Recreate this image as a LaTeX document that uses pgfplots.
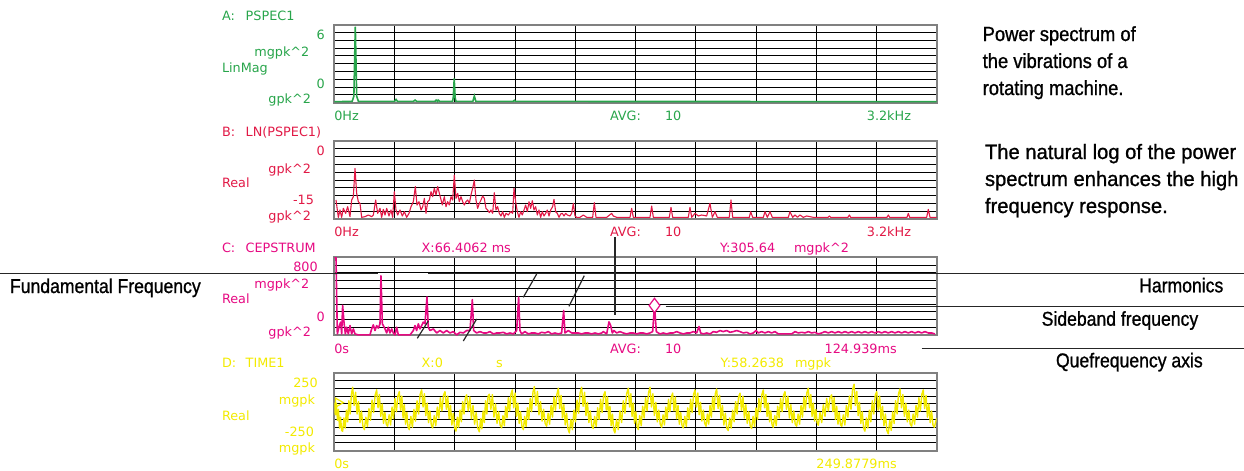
\documentclass[border=0pt]{standalone}
\usepackage{pgfplots}
\pgfplotsset{compat=1.18}
\usepackage{fontspec}
\setmainfont{DejaVu Sans}
\newfontfamily\hpf{DejaVu Sans}
\newfontfamily\cond[FakeStretch=0.88, FakeBold=1]{Liberation Sans}
\newfontfamily\condA[FakeStretch=0.9, FakeBold=1]{Liberation Sans}
\newfontfamily\condB[FakeStretch=0.97, FakeBold=1]{Liberation Sans}
\definecolor{hpgreen}{RGB}{40,165,75}
\definecolor{hpred}{RGB}{225,25,70}
\definecolor{hpmag}{RGB}{230,10,130}
\definecolor{hpyel}{RGB}{242,234,0}
\pgfplotsset{hp/.style={scale only axis, width=301.2pt, height=39pt, anchor=north west,
  axis line style={draw=gray, line width=0.9pt}, grid=major,
  major grid style={black, line width=0.45pt}, xticklabels={}, yticklabels={},
  major tick length=0pt}}
\begin{document}
\begin{tikzpicture}
\path[use as bounding box] (0,0) rectangle (622pt,-235.5pt);
% ---------- A
\begin{axis}[hp, at={(167.15pt,-12.35pt)}, xmin=0, xmax=3200, ymin=0, ymax=6,
  xtick={0,320,640,960,1280,1600,1920,2240,2560,2880,3200},
  ytick={0,0.6,1.2,1.8,2.4,3,3.6,4.2,4.8,5.4,6}]
\addplot[hpgreen, line width=0.8pt] coordinates {(0,0.08) (95,0.1) (104,0.5) (111.6,5.85) (119,0.5) (128,0.1) (320,0.1) (328,0.25) (336,0.1) (420,0.1) (429,0.2) (438,0.1) (535,0.1) (541,0.2) (548,0.1) (552,0.2) (560,0.1) (628,0.1) (632,0.4) (637,1.86) (642,0.4) (646,0.1) (736,0.1) (740,0.3) (744,0.51) (748,0.3) (752,0.1) (950,0.1) (956,0.18) (962,0.1) (3200,0.08)};
\end{axis}
% ---------- B
\begin{axis}[hp, at={(167.15pt,-70.5pt)}, xmin=0, xmax=3200, ymin=-15, ymax=0,
  xtick={0,320,640,960,1280,1600,1920,2240,2560,2880,3200},
  ytick={-15,-13.5,-12,-10.5,-9,-7.5,-6,-4.5,-3,-1.5,0}]
\addplot[hpred, line width=0.55pt, line join=round] coordinates {(9,-11.35)(21.5,-14.68)(30.3,-13.27)(39.1,-14.68)(48,-12.95)(60.4,-13.91)(71,-12.63)(83.4,-14.55)(92.3,-11.35)(101.1,-10.71)(110,-5.26)(118.8,-10.06)(127.7,-11.67)(136.5,-11.99)(145.4,-14.68)(163.1,-14.55)(180.8,-14.23)(198.5,-14.55)(207.4,-14.23)(219.8,-11.35)(230.4,-13.91)(242.8,-12.95)(251.6,-14.68)(260.5,-13.14)(269.4,-14.23)(278.2,-12.95)(290.6,-14.42)(301.2,-13.27)(310.1,-14.68)(318.9,-9.74)(327.8,-13.27)(336.6,-14.23)(349,-13.27)(361.4,-14.42)(372,-13.59)(384.4,-14.68)(396.9,-13.91)(407.5,-12.63)(419.9,-11.67)(430.5,-8.78)(439.4,-12.31)(450,-11.67)(460.6,-13.27)(469.5,-12.63)(478.3,-11.03)(487.2,-13.91)(496,-11.67)(504.9,-11.35)(513.7,-9.74)(522.6,-10.71)(531.4,-9.1)(540.3,-10.38)(549.1,-8.78)(558,-10.06)(565,-11.03)(573.9,-12.31)(584.5,-10.71)(593.4,-12.63)(602.2,-11.67)(611.1,-12.31)(619.9,-10.71)(628.8,-11.35)(637.6,-6.54)(646.5,-11.03)(655.3,-10.06)(664.2,-11.67)(673,-10.71)(681.9,-11.67)(690.7,-12.31)(699.6,-11.67)(708.4,-11.35)(717.3,-11.99)(726.1,-10.38)(735,-9.1)(743.8,-7.5)(752.7,-11.35)(761.5,-12.95)(770.4,-11.99)(779.2,-11.35)(788.1,-10.58)(796.9,-11.03)(805.8,-12.95)(814.6,-13.27)(823.5,-13.78)(832.3,-13.27)(841.2,-13.91)(850,-9.94)(858.9,-13.27)(867.7,-12.63)(876.6,-13.91)(885.4,-14.42)(894.3,-13.59)(903.2,-14.68)(912,-13.91)(924.4,-14.23)(936.8,-13.59)(947.5,-13.91)(954.6,-9.1)(963.4,-11.67)(972.3,-13.59)(981.1,-14.68)(990,-13.59)(998.8,-14.23)(1007.7,-13.27)(1016.5,-12.31)(1025.4,-13.59)(1034.2,-11.67)(1043.1,-12.95)(1051.9,-11.48)(1060.8,-13.27)(1069.6,-12.63)(1078.5,-14.23)(1087.4,-13.27)(1096.2,-14.68)(1105.1,-13.59)(1113.9,-14.42)(1122.8,-13.91)(1131.6,-13.27)(1140.5,-14.42)(1149.3,-13.27)(1159.9,-12.63)(1167,-11.22)(1175.9,-13.59)(1184.7,-13.91)(1193.6,-14.68)(1202.4,-14.04)(1211.3,-13.91)(1220.1,-14.42)(1229,-13.91)(1237.8,-14.23)(1252,-14.42)(1260.9,-13.91)(1269.8,-11.99)(1278.6,-14.42)(1287.5,-14.68)(1305.2,-14.68)(1322.9,-14.23)(1340.6,-14.68)(1358.3,-14.68)(1372.5,-14.68)(1381.3,-11.86)(1390.2,-14.68)(1411.4,-14.68)(1446.8,-14.68)(1473.4,-13.91)(1482.2,-14.42)(1499.9,-14.68)(1570.8,-14.68)(1579.6,-12.95)(1588.5,-14.68)(1677,-14.68)(1685.9,-12.5)(1694.7,-14.68)(1779.7,-14.68)(1788.6,-12.76)(1797.4,-14.68)(1880.6,-14.68)(1889.5,-12.76)(1898.4,-14.68)(1916.1,-13.91)(1933.8,-14.42)(1951.5,-14.23)(1978,-14.42)(1995.7,-11.99)(2008.1,-14.68)(2022.3,-13.59)(2034.7,-14.68)(2098.4,-14.68)(2107.3,-11.35)(2116.1,-14.68)(2204.7,-14.68)(2211.8,-13.59)(2222.4,-14.68)(2279.1,-14.68)(2287.9,-13.59)(2300.3,-14.68)(2314.5,-13.59)(2326.8,-14.68)(2411.8,-14.68)(2420.7,-13.59)(2434.9,-14.68)(2447.3,-14.23)(2460,-14.68)(2473.8,-14.23)(2491.5,-14.68)(2509.2,-14.42)(2544.7,-14.68)(2622.6,-14.68)(2629.6,-14.42)(2636.7,-14.68)(2728.8,-14.68)(2735.9,-14.23)(2743,-14.68)(2935.9,-14.68)(2943,-14.23)(2950.1,-14.68)(3042.2,-14.68)(3049.3,-13.91)(3056.3,-14.68)(3146.7,-14.68)(3155.5,-13.14)(3164.4,-14.68)(3200,-14.68)};
\end{axis}
% ---------- C
\begin{axis}[hp, at={(167.15pt,-128.65pt)}, xmin=0, xmax=124.939, ymin=0, ymax=800,
  xtick={0,12.4939,24.9878,37.4817,49.9756,62.4695,74.9634,87.4573,99.9512,112.4451,124.939},
  ytick={0,80,160,240,320,400,480,560,640,720,800}]
\addplot[hpmag, line width=0.8pt, line join=round] coordinates {(0,800)(0.35,800)(0.63,14)(1.04,100)(1.32,135)(1.53,14)(1.73,307)(2.01,135)(2.29,14)(2.56,83)(2.91,14)(3.25,100)(3.6,14)(3.95,66)(4.29,14)(4.98,4)(6.02,4)(7.4,4)(7.75,66)(8.09,107)(8.44,49)(8.79,100)(9.13,73)(9.48,118)(9.68,610)(9.96,118)(10.17,100)(10.51,66)(10.86,24)(11.2,83)(11.55,24)(11.9,66)(12.24,24)(12.59,4)(12.93,83)(13.28,4)(14.32,4)(15.7,4)(16.39,49)(16.74,100)(17.08,49)(17.43,118)(17.77,66)(18.12,100)(18.46,135)(18.81,118)(19.22,393)(19.5,83)(19.85,49)(20.54,66)(21.23,24)(21.92,49)(22.61,24)(23.3,49)(23.99,24)(24.68,38)(25.38,4)(26.07,31)(26.76,24)(27.45,49)(28.14,49)(28.63,366)(28.9,49)(29.52,24)(30.22,38)(30.91,24)(31.6,24)(32.29,38)(32.98,14)(33.67,24)(34.36,24)(35.05,31)(35.75,14)(36.44,24)(37.13,14)(37.82,49)(38.23,393)(38.51,49)(38.86,14)(39.55,38)(40.24,14)(40.93,24)(41.62,24)(42.31,14)(43,31)(43.7,24)(44.39,38)(45.08,14)(45.77,24)(46.46,14)(47.15,24)(47.57,255)(47.84,24)(48.53,49)(49.23,24)(49.92,24)(50.61,24)(51.3,14)(51.99,24)(52.68,24)(53.37,14)(54.07,24)(54.76,14)(55.45,24)(55.8,38)(56.49,14)(56.97,138)(57.32,100)(57.66,24)(58.01,49)(58.56,24)(59.25,38)(59.94,24)(60.64,14)(61.33,24)(62.02,24)(62.71,14)(63.4,24)(64.09,24)(64.78,14)(65.48,24)(66.03,38)(66.4062,305.64)(66.79,38)(67.2,24)(67.55,14)(68.24,24)(68.93,14)(69.62,24)(70.31,24)(71.01,38)(71.7,24)(72.39,14)(73.08,24)(73.77,24)(74.46,38)(75.15,24)(75.64,90)(75.98,24)(76.54,14)(77.23,24)(77.92,14)(78.61,38)(79.3,31)(79.99,49)(80.68,38)(81.38,49)(82.07,31)(82.76,38)(83.45,49)(84.14,38)(84.83,24)(85.52,31)(86.21,14)(86.91,24)(87.46,49)(87.94,24)(88.63,38)(89.32,24)(90.02,38)(90.71,24)(91.4,38)(92.09,14)(92.78,14)(93.82,14)(94.86,14)(95.55,38)(96.24,24)(96.93,31)(97.62,24)(98.31,38)(99,24)(99.69,31)(100.39,14)(101.08,24)(101.77,38)(102.46,24)(103.15,38)(103.84,24)(104.53,38)(105.22,24)(105.92,38)(106.61,24)(107.3,38)(107.99,24)(108.68,38)(109.37,24)(110.06,38)(110.76,24)(111.45,38)(112.14,24)(112.83,38)(113.52,24)(114.21,38)(114.9,24)(115.59,38)(116.29,24)(116.98,38)(117.67,24)(118.36,38)(119.05,24)(119.74,38)(120.43,24)(121.12,38)(121.82,24)(122.51,38)(123.2,24)(123.89,24)(124.58,14)};
\addplot[hpmag, only marks, mark=diamond*, mark size=3.6pt, mark options={fill=white, line width=0.6pt}] coordinates {(66.4062,305.64)};
\end{axis}
% ---------- D
\begin{axis}[hp, at={(167.15pt,-186.35pt)}, xmin=0, xmax=249.8779, ymin=-250, ymax=250,
  xtick={0,24.988,49.976,74.963,99.951,124.939,149.927,174.915,199.902,224.89,249.8779},
  ytick={-250,-200,-150,-100,-50,0,50,100,150,200,250}]
\addplot[hpyel, line width=0.7pt, line join=round] coordinates {
(0,58.3)(0.43,-20)(0.87,55)(1.3,-55)(1.73,15)(2.17,-105)(2.6,-35)(3.04,-120)(3.47,-125)
(3.99,-40)(4.51,-105)(5.03,10)(5.55,-65)(6.06,70)(6.58,-15)(7.1,110)(7.62,157)
(8.23,40)(8.83,125)(9.44,-15)(10.04,65)(10.65,-70)(11.25,5)(11.86,-90)(12.46,-115)
(13.1,-35)(13.74,-95)(14.38,20)(15.02,-55)(15.65,75)(16.29,-5)(16.93,105)(17.57,140)
(18.14,25)(18.71,110)(19.28,-30)(19.85,50)(20.42,-75)(20.99,-5)(21.56,-80)(22.13,-93)
(22.74,-20)(23.34,-85)(23.95,30)(24.55,-45)(25.16,85)(25.76,0)(26.37,100)(26.97,129)
(27.49,10)(28.01,100)(28.53,-40)(29.05,45)(29.56,-80)(30.08,-5)(30.6,-100)(31.12,-115)
(31.76,-30)(32.4,-100)(33.04,15)(33.68,-60)(34.32,70)(34.96,-15)(35.6,110)(36.24,140)
(36.81,30)(37.38,115)(37.95,-25)(38.52,55)(39.09,-70)(39.66,5)(40.23,-85)(40.8,-104)
(41.44,-25)(42.08,-90)(42.72,30)(43.36,-40)(44,90)(44.64,5)(45.28,105)(45.92,129)
(46.49,15)(47.06,100)(47.63,-45)(48.2,40)(48.77,-85)(49.34,-10)(49.91,-105)(50.48,-125)
(51.03,-35)(51.59,-100)(52.14,10)(52.7,-65)(53.25,65)(53.81,-15)(54.36,90)(54.91,108)
(55.57,5)(56.22,95)(56.88,-45)(57.54,40)(58.19,-80)(58.85,-5)(59.5,-105)(60.16,-129)
(60.68,-45)(61.2,-110)(61.72,5)(62.24,-70)(62.75,70)(63.27,-15)(63.79,100)(64.31,112)
(64.95,15)(65.59,110)(66.23,-35)(66.87,50)(67.5,-75)(68.14,0)(68.78,-85)(69.42,-104)
(69.97,-25)(70.53,-90)(71.08,35)(71.64,-40)(72.19,90)(72.75,5)(73.3,115)(73.85,140)
(74.42,25)(74.99,120)(75.56,-30)(76.13,55)(76.7,-75)(77.27,0)(77.84,-95)(78.41,-115)
(78.98,-30)(79.55,-95)(80.12,25)(80.69,-50)(81.27,85)(81.84,0)(82.41,125)(82.98,161)
(83.62,40)(84.26,130)(84.9,-20)(85.54,65)(86.17,-60)(86.81,15)(87.45,-75)(88.09,-93)
(88.7,-10)(89.3,-80)(89.91,40)(90.51,-35)(91.12,95)(91.72,10)(92.33,110)(92.93,151)
(93.5,20)(94.07,105)(94.64,-40)(95.21,45)(95.79,-85)(96.36,-10)(96.93,-110)(97.5,-136)
(98.14,-50)(98.78,-115)(99.41,10)(100.05,-65)(100.69,75)(101.33,-10)(101.96,120)(102.6,157)
(103.2,35)(103.8,125)(104.4,-25)(105,60)(105.6,-70)(106.2,5)(106.8,-90)(107.4,-108)
(108.01,-30)(108.63,-95)(109.24,25)(109.85,-50)(110.46,80)(111.08,-5)(111.69,105)(112.3,129)
(112.81,10)(113.33,95)(113.84,-50)(114.35,35)(114.86,-90)(115.38,-15)(115.89,-115)(116.4,-136)
(117.1,-50)(117.79,-115)(118.49,5)(119.18,-70)(119.88,70)(120.57,-10)(121.27,115)(121.96,151)
(122.48,30)(123,115)(123.51,-30)(124.03,55)(124.55,-75)(125.07,0)(125.58,-95)(126.1,-115)
(126.71,-25)(127.31,-90)(127.92,35)(128.52,-40)(129.13,90)(129.74,5)(130.34,120)(130.95,157)
(131.56,30)(132.16,115)(132.77,-25)(133.37,60)(133.98,-65)(134.59,10)(135.19,-80)(135.8,-100)
(136.37,-20)(136.94,-85)(137.51,30)(138.08,-45)(138.64,80)(139.21,0)(139.78,95)(140.35,119)
(140.91,5)(141.46,95)(142.02,-45)(142.58,40)(143.13,-80)(143.69,-5)(144.24,-90)(144.8,-104)
(145.4,-30)(146.01,-95)(146.61,25)(147.21,-50)(147.81,80)(148.42,-5)(149.02,110)(149.62,140)
(150.19,30)(150.77,120)(151.34,-20)(151.91,60)(152.48,-60)(153.06,10)(153.63,-75)(154.2,-93)
(154.75,-15)(155.3,-80)(155.85,40)(156.4,-35)(156.95,95)(157.5,10)(158.05,115)(158.6,146)
(159.2,20)(159.8,105)(160.4,-45)(161,40)(161.6,-85)(162.2,-10)(162.8,-105)(163.4,-121)
(164.01,-40)(164.63,-105)(165.24,10)(165.85,-65)(166.46,65)(167.08,-15)(167.69,95)(168.3,119)
(168.9,10)(169.5,100)(170.1,-40)(170.7,45)(171.3,-75)(171.9,0)(172.5,-90)(173.1,-108)
(173.71,-30)(174.32,-95)(174.92,25)(175.53,-50)(176.14,85)(176.75,0)(177.35,110)(177.96,140)
(178.48,25)(179,110)(179.51,-30)(180.03,55)(180.55,-65)(181.07,5)(181.58,-85)(182.1,-100)
(182.71,-25)(183.31,-90)(183.92,35)(184.52,-40)(185.13,85)(185.74,0)(186.34,105)(186.95,129)
(187.56,15)(188.16,100)(188.77,-40)(189.37,45)(189.98,-70)(190.59,5)(191.19,-80)(191.8,-93)
(192.4,-15)(193,-80)(193.6,40)(194.2,-35)(194.8,95)(195.4,10)(196,120)(196.6,151)
(197.13,25)(197.65,110)(198.18,-30)(198.7,55)(199.23,-60)(199.75,15)(200.28,-70)(200.8,-87)
(201.49,-5)(202.18,-70)(202.86,45)(203.55,-30)(204.24,85)(204.93,5)(205.61,90)(206.3,108)
(206.83,0)(207.35,90)(207.88,-50)(208.4,35)(208.93,-80)(209.45,-5)(209.98,-85)(210.5,-93)
(211.14,-20)(211.78,-85)(212.41,40)(213.05,-35)(213.69,100)(214.33,15)(214.96,140)(215.6,176)
(216.16,40)(216.73,130)(217.29,-25)(217.85,60)(218.41,-75)(218.98,0)(219.54,-105)(220.1,-125)
(220.71,-40)(221.33,-105)(221.94,10)(222.55,-65)(223.16,70)(223.78,-15)(224.39,105)(225,129)
(225.6,10)(226.2,100)(226.8,-50)(227.4,35)(228,-90)(228.6,-15)(229.2,-120)(229.8,-142)
(230.41,-55)(231.01,-120)(231.62,0)(232.22,-75)(232.83,70)(233.44,-15)(234.04,115)(234.65,146)
(235.26,25)(235.86,110)(236.47,-30)(237.07,55)(237.68,-65)(238.29,10)(238.89,-80)(239.5,-93)
(240.1,-15)(240.7,-80)(241.3,40)(241.9,-35)(242.5,90)(243.1,5)(243.7,110)(244.3,140)
(244.88,20)(245.45,105)(246.03,-35)(246.6,50)(247.18,-70)(247.75,5)(248.33,-85)(248.9,-100)(249.88,-40)};
\addplot[hpyel, only marks, mark=triangle, mark size=2.6pt, mark options={rotate=-90, line width=0.6pt}] coordinates {(1.6,58.26)};
\end{axis}
% ---------- annotations
\begin{scope}[x=0.5pt, y=-0.5pt, every node/.style={inner sep=0pt, outer sep=0pt}]
\begin{scope}[font=\hpf\fontsize{6.4pt}{7pt}\selectfont]
% A
\node[anchor=base west, text=hpgreen] at (222,20.7) {A:};
\node[anchor=base west, text=hpgreen] at (245.7,20.7) {PSPEC1};
\node[anchor=base east, text=hpgreen] at (324.7,39.3) {6};
\node[anchor=base east, text=hpgreen] at (309.3,56) {mgpk\textasciicircum 2};
\node[anchor=base west, text=hpgreen] at (222,72.7) {LinMag};
\node[anchor=base east, text=hpgreen] at (324.7,88.3) {0};
\node[anchor=base east, text=hpgreen] at (311,104) {gpk\textasciicircum 2};
\node[anchor=base west, text=hpgreen] at (334.3,120.7) {0Hz};
\node[anchor=base west, text=hpgreen] at (610,120.7) {AVG:};
\node[anchor=base west, text=hpgreen] at (665,120.7) {10};
\node[anchor=base east, text=hpgreen] at (911,120.7) {3.2kHz};
% B
\node[anchor=base west, text=hpred] at (222,136.7) {B:};
\node[anchor=base west, text=hpred] at (245.7,136.7) {LN(PSPEC1)};
\node[anchor=base east, text=hpred] at (324.7,155.7) {0};
\node[anchor=base east, text=hpred] at (311,173) {gpk\textasciicircum 2};
\node[anchor=base west, text=hpred] at (222,187.3) {Real};
\node[anchor=base east, text=hpred] at (314,204) {-15};
\node[anchor=base east, text=hpred] at (311,220) {gpk\textasciicircum 2};
\node[anchor=base west, text=hpred] at (334.3,236.7) {0Hz};
\node[anchor=base west, text=hpred] at (610,236.7) {AVG:};
\node[anchor=base west, text=hpred] at (665,236.7) {10};
\node[anchor=base east, text=hpred] at (911,236.7) {3.2kHz};
% C
\node[anchor=base west, text=hpmag] at (222,252.7) {C:};
\node[anchor=base west, text=hpmag] at (245.7,252.7) {CEPSTRUM};
\node[anchor=base west, text=hpmag] at (421.7,252.7) {X:66.4062 ms};
\node[anchor=base west, text=hpmag] at (720,252.7) {Y:305.64};
\node[anchor=base west, text=hpmag] at (794,252.7) {mgpk\textasciicircum 2};
\node[anchor=base east, text=hpmag] at (317.7,271.7) {800};
\node[anchor=base east, text=hpmag] at (309.3,288.6) {mgpk\textasciicircum 2};
\node[anchor=base west, text=hpmag] at (222,303.3) {Real};
\node[anchor=base east, text=hpmag] at (324.7,321) {0};
\node[anchor=base east, text=hpmag] at (311,336.6) {gpk\textasciicircum 2};
\node[anchor=base west, text=hpmag] at (334.3,353.3) {0s};
\node[anchor=base west, text=hpmag] at (610,353.3) {AVG:};
\node[anchor=base west, text=hpmag] at (665,353.3) {10};
\node[anchor=base east, text=hpmag] at (896.7,353.3) {124.939ms};
% D
\node[anchor=base west, text=hpyel] at (222,367.7) {D:};
\node[anchor=base west, text=hpyel] at (245.7,367.7) {TIME1};
\node[anchor=base west, text=hpyel] at (421.7,367.7) {X:0};
\node[anchor=base west, text=hpyel] at (496,367.7) {s};
\node[anchor=base west, text=hpyel] at (720.7,367.7) {Y:58.2638};
\node[anchor=base west, text=hpyel] at (795,367.7) {mgpk};
\node[anchor=base east, text=hpyel] at (317.7,387.5) {250};
\node[anchor=base east, text=hpyel] at (315,404) {mgpk};
\node[anchor=base west, text=hpyel] at (222,420.7) {Real};
\node[anchor=base east, text=hpyel] at (314,436.3) {-250};
\node[anchor=base east, text=hpyel] at (315,452) {mgpk};
\node[anchor=base west, text=hpyel] at (334.3,468.5) {0s};
\node[anchor=base east, text=hpyel] at (896.7,468.5) {249.8779ms};
\end{scope}
% lines
\begin{scope}[black!85, line width=0.6pt]
\draw (0,273.5) -- (378,273.5);
\draw (428,273.5) -- (1244,273.5);
\draw (665.7,306.7) -- (1244,306.7);
\draw (921.7,348.5) -- (1244,348.5);
\draw (615,237) -- (615,315);
\draw (523.3,297.3) -- (536.7,274);
\draw (569,306.3) -- (584.3,275.7);
\draw (417.3,338.3) -- (428.3,321);
\draw (463.3,341) -- (476.7,319);
\end{scope}
% black texts
\begin{scope}[font=\condA\fontsize{10.2pt}{12pt}\selectfont]
\node[anchor=base west] at (982.7,41) {Power spectrum of};
\node[anchor=base west] at (982.7,68) {the vibrations of a};
\node[anchor=base west] at (982.7,95) {rotating machine.};
\end{scope}
\begin{scope}[font=\condB\fontsize{10.4pt}{12pt}\selectfont]
\node[anchor=base west] at (985,159) {The natural log of the power};
\node[anchor=base west] at (985,186) {spectrum enhances the high};
\node[anchor=base west] at (985,213) {frequency response.};
\end{scope}
\begin{scope}[font=\cond\fontsize{10pt}{12pt}\selectfont]
\node[anchor=base west] at (10,293) {Fundamental Frequency};
\node[anchor=base east] at (1223.3,292.3) {Harmonics};
\node[anchor=base west] at (1041.7,325.7) {Sideband frequency};
\node[anchor=base west] at (1056,367.3) {Quefrequency axis};
\end{scope}
\end{scope}
\end{tikzpicture}
\end{document}
